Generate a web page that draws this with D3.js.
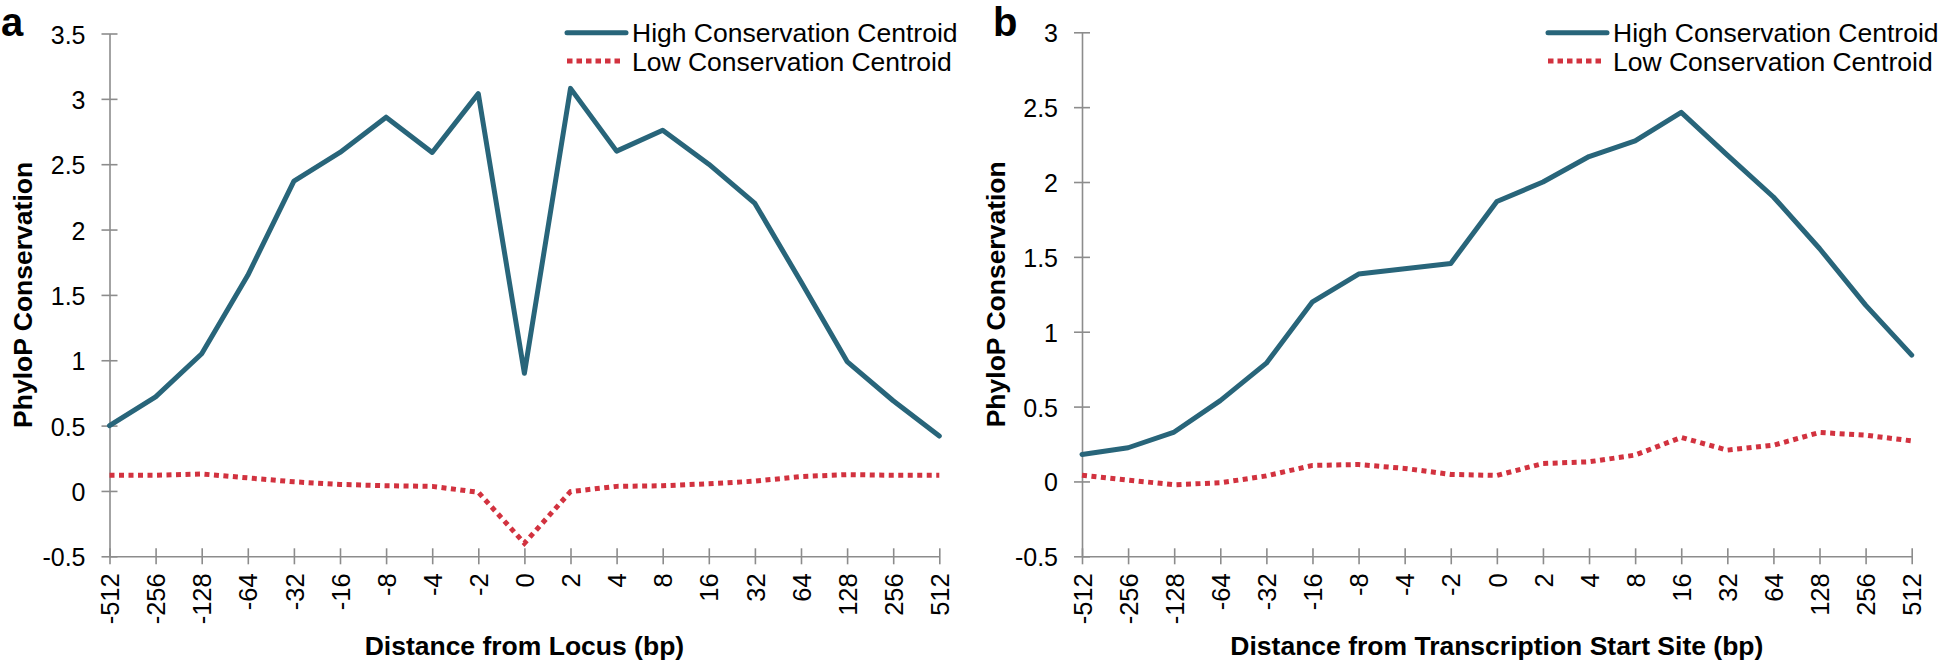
<!DOCTYPE html>
<html>
<head>
<meta charset="utf-8">
<script src="https://cdn.jsdelivr.net/npm/d3@7"></script>
<style>
body{margin:0;background:#fff;}
svg text{font-family:"Liberation Sans",Arial,Helvetica,sans-serif;fill:#000;}
</style>
</head>
<body>
<div id="chart"></div>
<script>
// categories on the x axis (bp, log2 steps)
var distances=["-512","-256","-128","-64","-32","-16","-8","-4","-2","0","2","4","8","16","32","64","128","256","512"];

// panel a : distance from locus
var locusHigh=[0.50,0.72,1.05,1.65,2.37,2.59,2.86,2.59,3.04,0.90,3.08,2.60,2.76,2.50,2.20,1.60,0.99,0.69,0.42];
var locusLow=[0.12,0.12,0.13,0.10,0.07,0.05,0.04,0.035,-0.01,-0.40,-0.005,0.035,0.04,0.055,0.075,0.11,0.125,0.12,0.12];

// panel b : distance from TSS
var tssHigh=[0.18,0.225,0.33,0.54,0.79,1.20,1.385,1.42,1.456,1.87,2.00,2.17,2.275,2.465,2.18,1.90,1.556,1.178,0.844];
var tssLow=[0.042,0.009,-0.022,-0.009,0.037,0.107,0.113,0.087,0.047,0.04,0.12,0.131,0.176,0.294,0.209,0.242,0.327,0.309,0.271];

var ticksA=[-0.5,0,0.5,1,1.5,2,2.5,3,3.5];
var ticksB=[-0.5,0,0.5,1,1.5,2,2.5,3];

var seriesNames=["High Conservation Centroid","Low Conservation Centroid"];

width=1943;
height=662;
blue="#28657a";
red="#d2323f";
axisGray="#8c8c8c";

svg=d3.select("#chart").append("svg").attr("width",width).attr("height",height);

drawPanel=function(p){
	var g=svg.append("g");
	var x=d3.scalePoint().domain(distances).range([p.x0,p.x1]).padding(0);
	var y=d3.scaleLinear().domain([p.ticks[0],p.ticks[p.ticks.length-1]]).range([p.yb,p.yt]);

	//y axis
	var ya=g.append("g").attr("transform","translate("+p.x0+",0)")
		.call(d3.axisLeft(y).tickValues(p.ticks).tickSize(8).tickSizeOuter(0).tickFormat(function(d){return String(d)}));
	ya.select(".domain").attr("stroke",axisGray).attr("stroke-width",1.6);
	ya.selectAll(".tick line").attr("stroke",axisGray).attr("stroke-width",1.6).attr("x1",8);
	ya.selectAll(".tick text").attr("x",-24).attr("dy","0.38em").style("font-size","25px");

	//x axis
	var xa=g.append("g").attr("transform","translate(0,"+p.yb+")")
		.call(d3.axisBottom(x).tickSize(8).tickSizeOuter(0));
	xa.select(".domain").attr("stroke",axisGray).attr("stroke-width",1.6);
	xa.selectAll(".tick line").attr("stroke",axisGray).attr("stroke-width",1.6).attr("y1",-8);
	xa.selectAll(".tick text")
		.attr("transform","rotate(-90)")
		.attr("text-anchor","end")
		.attr("x",-17).attr("y",0).attr("dy","0.36em")
		.style("font-size","25.5px");

	//lines
	var line=d3.line().x(function(d,i){return x(distances[i])}).y(function(d){return y(d)});
	g.append("path").datum(p.low).attr("d",line)
		.attr("fill","none").attr("stroke",red).attr("stroke-width",5)
		.attr("stroke-dasharray","5,4.5");
	g.append("path").datum(p.high).attr("d",line)
		.attr("fill","none").attr("stroke",blue).attr("stroke-width",5)
		.attr("stroke-linejoin","round").attr("stroke-linecap","round");

	//legend
	var lg=g.append("g").attr("transform","translate("+p.lx+",0)");
	lg.append("line").attr("x1",0).attr("x2",59).attr("y1",32.7).attr("y2",32.7)
		.attr("stroke",blue).attr("stroke-width",5).attr("stroke-linecap","round");
	lg.append("line").attr("x1",0).attr("x2",56).attr("y1",61).attr("y2",61)
		.attr("stroke",red).attr("stroke-width",5).attr("stroke-dasharray","5.5,4");
	lg.selectAll("text.leg").data(seriesNames).enter().append("text")
		.attr("class","leg").text(function(d){return d})
		.attr("x",65).attr("y",function(d,i){return 42.3+i*28.4})
		.style("font-size","26.5px");

	//axis titles
	g.append("text").text(p.xTitle)
		.attr("x",(p.x0+p.x1)/2).attr("y",655)
		.attr("text-anchor","middle").style("font-size","26.5px").style("font-weight","bold");
	g.append("text").text("PhyloP Conservation")
		.attr("transform","translate("+p.ytx+","+((p.yt+p.yb)/2)+")rotate(-90)")
		.attr("text-anchor","middle").style("font-size","26.5px").style("font-weight","bold");

	//panel letter
	g.append("text").text(p.letter).attr("x",p.letterX).attr("y",36)
		.style("font-size","40px").style("font-weight","bold");
};

drawPanel({x0:109.5,x1:939.3,yt:33.5,yb:556.3,ticks:ticksA,high:locusHigh,low:locusLow,
	lx:567,xTitle:"Distance from Locus (bp)",ytx:31.5,letter:"a",letterX:1});
drawPanel({x0:1082,x1:1911.7,yt:32.3,yb:556.3,ticks:ticksB,high:tssHigh,low:tssLow,
	lx:1548,xTitle:"Distance from Transcription Start Site (bp)",ytx:1004.5,letter:"b",letterX:993});
</script>
</body>
</html>
